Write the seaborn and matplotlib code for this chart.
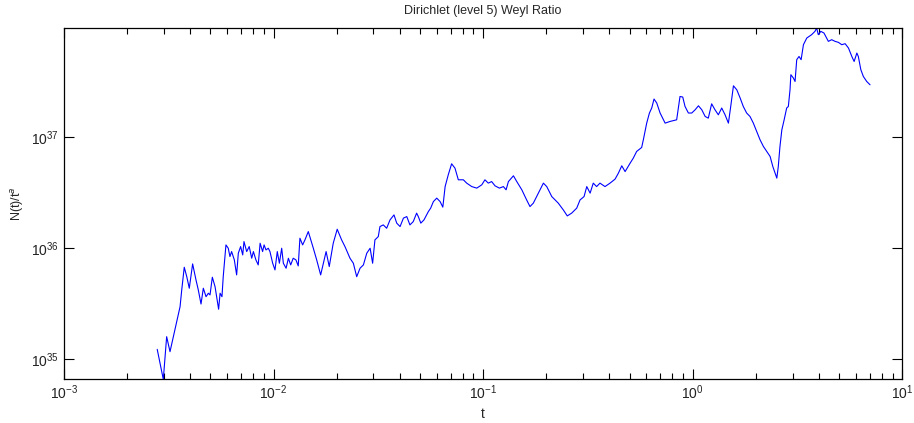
import numpy as np
import pandas as pd
import matplotlib
matplotlib.use("Agg")
import matplotlib.pyplot as plt
import seaborn as sns

# values, as base-10 exponents
log_t = [
    -2.555, -2.526, -2.510, -2.494, -2.478, -2.446, -2.438, -2.426, -2.414, -2.402,
    -2.386, -2.370, -2.359, -2.346, -2.335, -2.322, -2.311, -2.303, -2.292, -2.279,
    -2.262, -2.255, -2.246, -2.240, -2.227, -2.216, -2.208, -2.200, -2.187, -2.176,
    -2.168, -2.157, -2.147, -2.141, -2.128, -2.116, -2.104, -2.096, -2.084, -2.073,
    -2.064, -2.052, -2.045, -2.036, -2.025, -2.017, -2.004, -1.993, -1.982, -1.972,
    -1.961, -1.953, -1.940, -1.929, -1.918, -1.906, -1.893, -1.882, -1.874, -1.861,
    -1.850, -1.834, -1.810, -1.794, -1.775, -1.762, -1.749, -1.734, -1.715, -1.696,
    -1.675, -1.659, -1.635, -1.619, -1.603, -1.587, -1.571, -1.555, -1.539, -1.527,
    -1.516, -1.500, -1.492, -1.476, -1.460, -1.444, -1.425, -1.412, -1.396, -1.380,
    -1.364, -1.349, -1.333, -1.317, -1.309, -1.297, -1.282, -1.261, -1.250, -1.237,
    -1.221, -1.205, -1.192, -1.181, -1.166, -1.150, -1.134, -1.118, -1.094, -1.078,
    -1.054, -1.030, -1.006, -0.991, -0.975, -0.959, -0.943, -0.922, -0.903, -0.890,
    -0.879, -0.855, -0.839, -0.815, -0.792, -0.776, -0.760, -0.736, -0.712, -0.696,
    -0.672, -0.641, -0.617, -0.598, -0.577, -0.553, -0.537, -0.518, -0.505, -0.489,
    -0.474, -0.458, -0.442, -0.418, -0.394, -0.370, -0.354, -0.338, -0.322, -0.298,
    -0.283, -0.267, -0.243, -0.235, -0.219, -0.206, -0.195, -0.184, -0.171, -0.155,
    -0.131, -0.108, -0.076, -0.060, -0.047, -0.036, -0.020, -0.004, 0.012, 0.028,
    0.044, 0.060, 0.075, 0.091, 0.107, 0.123, 0.139, 0.155, 0.171, 0.182,
    0.195, 0.211, 0.227, 0.242, 0.258, 0.274, 0.290, 0.306, 0.322, 0.338,
    0.354, 0.370, 0.383, 0.394, 0.402, 0.409, 0.417, 0.426, 0.437, 0.449,
    0.457, 0.465, 0.469, 0.481, 0.489, 0.497, 0.508, 0.518, 0.529, 0.545,
    0.568, 0.584, 0.592, 0.600, 0.612, 0.627, 0.648, 0.664, 0.680, 0.696,
    0.712, 0.728, 0.744, 0.760, 0.771, 0.784, 0.791, 0.803, 0.815, 0.831,
    0.847,
]
log_ratio = [
    35.087, 34.817, 35.201, 35.066, 35.201, 35.471, 35.622, 35.826, 35.741, 35.637,
    35.856, 35.712, 35.622, 35.495, 35.637, 35.561, 35.592, 35.577, 35.736, 35.651,
    35.448, 35.592, 35.561, 35.741, 36.027, 35.997, 35.922, 35.967, 35.892, 35.757,
    35.952, 36.012, 35.937, 36.057, 35.967, 36.012, 35.907, 35.967, 35.892, 35.847,
    36.042, 35.967, 36.027, 35.982, 35.997, 35.967, 35.862, 35.802, 35.967, 35.862,
    35.997, 35.862, 35.817, 35.907, 35.847, 35.907, 35.892, 35.838, 36.087, 36.027,
    36.072, 36.147, 35.997, 35.892, 35.757, 35.862, 35.967, 35.832, 36.042, 36.168,
    36.072, 36.012, 35.907, 35.862, 35.741, 35.817, 35.847, 35.952, 35.997, 35.862,
    36.072, 36.102, 36.192, 36.207, 36.177, 36.252, 36.297, 36.223, 36.192, 36.268,
    36.282, 36.207, 36.237, 36.313, 36.282, 36.223, 36.252, 36.327, 36.358, 36.417,
    36.448, 36.417, 36.367, 36.552, 36.658, 36.757, 36.718, 36.613, 36.613, 36.583,
    36.552, 36.538, 36.568, 36.613, 36.583, 36.597, 36.559, 36.538, 36.552, 36.523,
    36.597, 36.649, 36.597, 36.523, 36.432, 36.372, 36.403, 36.493, 36.583, 36.552,
    36.462, 36.403, 36.342, 36.288, 36.313, 36.358, 36.432, 36.462, 36.552, 36.493,
    36.583, 36.552, 36.583, 36.552, 36.583, 36.619, 36.673, 36.739, 36.687, 36.763,
    36.808, 36.868, 36.904, 36.973, 37.123, 37.214, 37.259, 37.340, 37.304, 37.214,
    37.123, 37.138, 37.153, 37.363, 37.358, 37.273, 37.214, 37.214, 37.243, 37.279,
    37.243, 37.183, 37.168, 37.297, 37.243, 37.198, 37.259, 37.198, 37.123, 37.273,
    37.459, 37.423, 37.349, 37.273, 37.214, 37.183, 37.123, 37.048, 36.973, 36.913,
    36.868, 36.823, 36.732, 36.673, 36.628, 36.732, 36.913, 37.063, 37.153, 37.259,
    37.273, 37.423, 37.559, 37.529, 37.498, 37.694, 37.723, 37.694, 37.829, 37.889,
    37.919, 37.949, 37.979, 37.919, 37.949, 37.934, 37.859, 37.874, 37.859, 37.850,
    37.829, 37.838, 37.799, 37.723, 37.678, 37.754, 37.723, 37.604, 37.543, 37.498,
    37.468,
]

df = pd.DataFrame({"t": 10.0 ** np.array(log_t),
                   "ratio": 10.0 ** np.array(log_ratio)})

sns.set_style("ticks")
plt.rcParams["font.family"] = ["Liberation Sans", "DejaVu Sans"]
plt.rcParams["xtick.direction"] = "in"
plt.rcParams["ytick.direction"] = "in"

fig = plt.figure(figsize=(9.14, 4.23), dpi=100)
ax = fig.add_axes([0.070, 0.104, 0.917, 0.830])
ax.set_xscale("log")
ax.set_yscale("log")

sns.lineplot(x="t", y="ratio", data=df, ax=ax, color="#0000ff",
             linewidth=0.8, sort=False, estimator=None)

ax.set_xlim(1e-3, 1e1)
ax.set_ylim(10 ** 34.82, 10 ** 37.98)
ax.set_yticks([1e35, 1e36, 1e37])
ax.yaxis.set_minor_locator(matplotlib.ticker.NullLocator())

ax.tick_params(axis="both", which="both", top=True, right=True,
               labelsize=10, colors="black", labelcolor="#222222", width=0.8)
ax.tick_params(which="major", length=7)
ax.tick_params(which="minor", length=4)
for s in ax.spines.values():
    s.set_linewidth(0.9)
    s.set_color("black")

ax.set_title("Dirichlet (level 5) Weyl Ratio", fontsize=9, pad=10)
ax.set_xlabel("t", fontsize=10, labelpad=3)
ax.set_ylabel(r"N(t)/t$^a$", fontsize=9, labelpad=4)

fig.savefig("out.png", dpi=100)
